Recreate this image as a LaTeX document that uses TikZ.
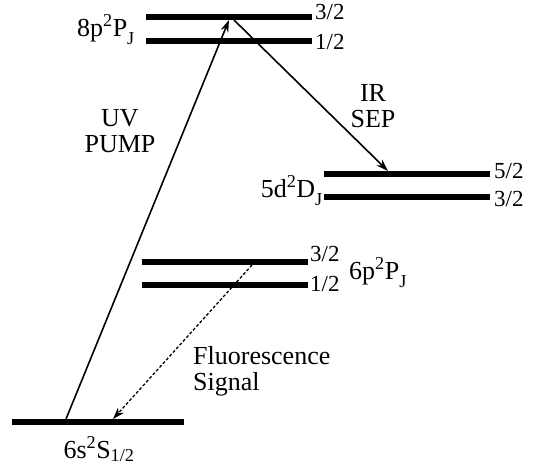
\documentclass[tikz,border=0pt]{standalone}
\usepackage{fontspec}
\setmainfont{Liberation Serif}
\usetikzlibrary{arrows.meta, positioning}

\newcommand{\lvlname}[3]{#1\textsuperscript{2}#2\raisebox{-0.4ex}{\textsubscript{#3}}}

\begin{document}
\begin{tikzpicture}[
    x=1pt, y=-1pt,
    level/.style={fill=black, inner sep=0pt, minimum height=6pt, minimum width=166pt},
    lbl/.style={inner sep=0pt, font=\fontsize{26}{26}\selectfont},
    jval/.style={inner sep=0pt, anchor=west, font=\fontsize{23}{23}\selectfont},
    line/.style={-{Stealth[length=12pt, width=8pt]}, line width=1.6pt}
]
\useasboundingbox (0,0) rectangle (534,469);

% energy levels
\node[level] (p8a) at (229,17) {};
\node[level] (p8b) at (229,41) {};
\node[level] (d5a) at (407,174) {};
\node[level] (d5b) at (407,197) {};
\node[level] (p6a) at (225,262) {};
\node[level] (p6b) at (225,285) {};
\node[level, minimum width=172pt] (s6) at (98,422) {};

% term symbols
\node[lbl, anchor=base east] (p8lbl) at (135,36) {\lvlname{8p}{P}{J}};
\node[lbl, anchor=base east] (d5lbl) at (323,197) {\lvlname{5d}{D}{J}};
\node[lbl, anchor=base west] (p6lbl) at (349,279) {\lvlname{6p}{P}{J}};
\node[lbl, anchor=base] (s6lbl) at (99,458) {6s\textsuperscript{2}S\textsubscript{1/2}};

% J values
\node[jval] (j1) at (315,12) {3/2};
\node[jval] (j2) at (315,42) {1/2};
\node[jval] (j3) at (494,171) {5/2};
\node[jval] (j4) at (494,199) {3/2};
\node[jval] (j5) at (310,254) {3/2};
\node[jval] (j6) at (310,284) {1/2};

% transitions
\coordinate (uvA) at (66,419);
\coordinate (uvB) at (229,20);
\coordinate (irA) at (234,20);
\coordinate (irB) at (388,171);
\coordinate (flA) at (252,265);
\coordinate (flB) at (113,419);
\draw[line] (uvA) -- (uvB);
\draw[line] (irA) -- (irB);
\draw[line, densely dashed, line width=1.3pt] (flA) -- (flB);

\node[lbl, align=center] (uv) at (120,131) {UV\\PUMP};
\node[lbl, align=center] (ir) at (373,106) {IR\\SEP};
\node[lbl, align=left, anchor=north west] (fl) at (193,346) {Fluorescence\\Signal};
\end{tikzpicture}
\end{document}
